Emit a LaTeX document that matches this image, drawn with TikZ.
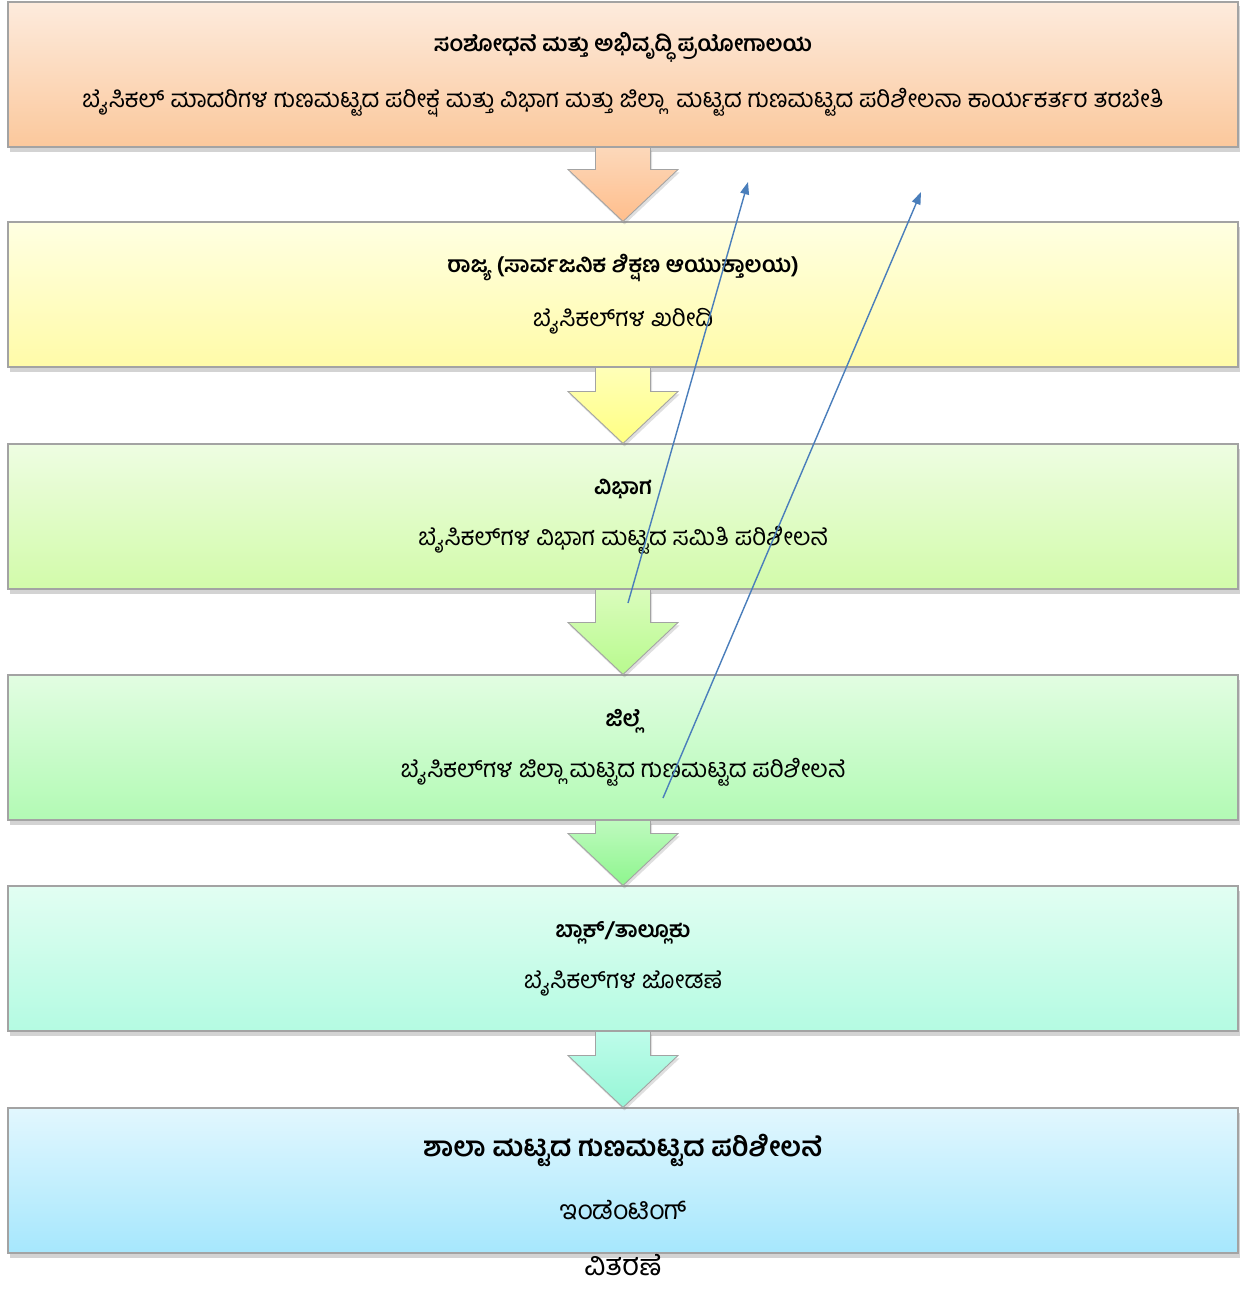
\documentclass[tikz,border=0pt]{standalone}
\usepackage{fontspec}
\newfontfamily\kan[Script=Kannada]{Hind Mysuru}
\usetikzlibrary{arrows.meta,calc,shadows}
\definecolor{edge}{HTML}{A3A3A3}
\definecolor{linkblue}{HTML}{4A7EBB}
% box shadings (top / bottom)
\definecolor{orT}{HTML}{FDEBDD}\definecolor{orB}{HTML}{FBC89C}
\definecolor{yeT}{HTML}{FFFFE2}\definecolor{yeB}{HTML}{FFFBA8}
\definecolor{lgT}{HTML}{EEFDE2}\definecolor{lgB}{HTML}{D2FBAA}
\definecolor{grT}{HTML}{E2FDE2}\definecolor{grB}{HTML}{B2FAB4}
\definecolor{aqT}{HTML}{E2FEF2}\definecolor{aqB}{HTML}{B4FBE2}
\definecolor{skT}{HTML}{E2F7FE}\definecolor{skB}{HTML}{A6E7FD}
% arrow shadings (shaft / tip)
\definecolor{orS}{HTML}{FCD8BA}\definecolor{orA}{HTML}{FFBE8C}
\definecolor{yeS}{HTML}{FFFFB8}\definecolor{yeA}{HTML}{FFFF82}
\definecolor{lgS}{HTML}{DAFCBC}\definecolor{lgA}{HTML}{B8FA8E}
\definecolor{grS}{HTML}{BEFABE}\definecolor{grA}{HTML}{8EF68E}
\definecolor{aqS}{HTML}{BEFCEA}\definecolor{aqA}{HTML}{96F6D6}
\newcommand{\ttl}[1]{{\bfseries\fontsize{12.7}{15}\selectfont #1}}

\begin{document}
\begin{tikzpicture}[
  lvl/.style={draw=edge, line width=0.6pt, minimum width=24.6cm, minimum height=2.9cm, inner sep=0pt, align=center,
    font=\kan\fontsize{13.8}{15}\selectfont,
    drop shadow={opacity=0.35, shadow xshift=0.04cm, shadow yshift=-0.09cm}},
  blockarr/.style={draw=edge, line width=0.5pt,
    drop shadow={opacity=0.25, shadow xshift=0.03cm, shadow yshift=-0.06cm}},
  link/.style={-{Triangle[length=7pt,width=5pt]}, color=linkblue, line width=0.8pt},
]
\useasboundingbox (0,0) rectangle (25,-25.78);

% levels
\node[lvl, top color=orT, bottom color=orB] (lab) at (12.46,-1.49)
  {\ttl{ಸಂಶೋಧನೆ ಮತ್ತು ಅಭಿವೃದ್ಧಿ ಪ್ರಯೋಗಾಲಯ}\\[14pt]
   ಬೈಸಿಕಲ್ ಮಾದರಿಗಳ ಗುಣಮಟ್ಟದ ಪರೀಕ್ಷೆ ಮತ್ತು ವಿಭಾಗ ಮತ್ತು ಜಿಲ್ಲಾ\ \ ಮಟ್ಟದ ಗುಣಮಟ್ಟದ ಪರಿಶೀಲನಾ ಕಾರ್ಯಕರ್ತರ ತರಬೇತಿ};
\node[lvl, top color=yeT, bottom color=yeB] (state) at (12.46,-5.89)
  {\ttl{ರಾಜ್ಯ (ಸಾರ್ವಜನಿಕ ಶಿಕ್ಷಣ ಆಯುಕ್ತಾಲಯ)}\\[14pt]
   ಬೈಸಿಕಲ್‌ಗಳ ಖರೀದಿ};
\node[lvl, top color=lgT, bottom color=lgB] (div) at (12.46,-10.33)
  {\ttl{ವಿಭಾಗ}\\[14pt]
   ಬೈಸಿಕಲ್‌ಗಳ ವಿಭಾಗ ಮಟ್ಟದ ಸಮಿತಿ ಪರಿಶೀಲನೆ};
\node[lvl, top color=grT, bottom color=grB] (dist) at (12.46,-14.95)
  {\ttl{ಜಿಲ್ಲೆ}\\[14pt]
   ಬೈಸಿಕಲ್‌ಗಳ ಜಿಲ್ಲಾ ಮಟ್ಟದ ಗುಣಮಟ್ಟದ ಪರಿಶೀಲನೆ};
\node[lvl, top color=aqT, bottom color=aqB] (blk) at (12.46,-19.17)
  {\ttl{ಬ್ಲಾಕ್‌/ತಾಲ್ಲೂಕು}\\[14pt]
   ಬೈಸಿಕಲ್‌ಗಳ ಜೋಡಣೆ};
\node[lvl, top color=skT, bottom color=skB, font=\kan\fontsize{15}{18}\selectfont] (school) at (12.46,-23.61)
  {{\bfseries\fontsize{15.5}{18}\selectfont ಶಾಲಾ ಮಟ್ಟದ ಗುಣಮಟ್ಟದ ಪರಿಶೀಲನೆ}\\[18pt]
   \raisebox{4pt}{ಇಂಡೆಂಟಿಂಗ್}};
\node[font=\kan\fontsize{16.5}{19}\selectfont, inner sep=0pt] (distrib) at (12.46,-25.30) {ವಿತರಣೆ};

% block arrows between levels
\foreach \a/\b/\c in {lab/state/or, state/div/ye, div/dist/lg, dist/blk/gr, blk/school/aq}
  \path[blockarr, top color=\c S, bottom color=\c A]
    ($(\a.south)+(-0.55,0)$) -- ($(\b.north)+(-0.55,1.04)$) -- ($(\b.north)+(-1.1,1.04)$)
    -- (\b.north) -- ($(\b.north)+(1.1,1.04)$) -- ($(\b.north)+(0.55,1.04)$)
    -- ($(\a.south)+(0.55,0)$) -- cycle;

% stray links
\coordinate (l1s) at (12.56,-12.06);
\coordinate (l1e) at (14.96,-3.64);
\coordinate (l2s) at (13.26,-15.96);
\coordinate (l2e) at (18.42,-3.84);
\draw[link] (l1s) -- (l1e);
\draw[link] (l2s) -- (l2e);

\end{tikzpicture}
\end{document}
